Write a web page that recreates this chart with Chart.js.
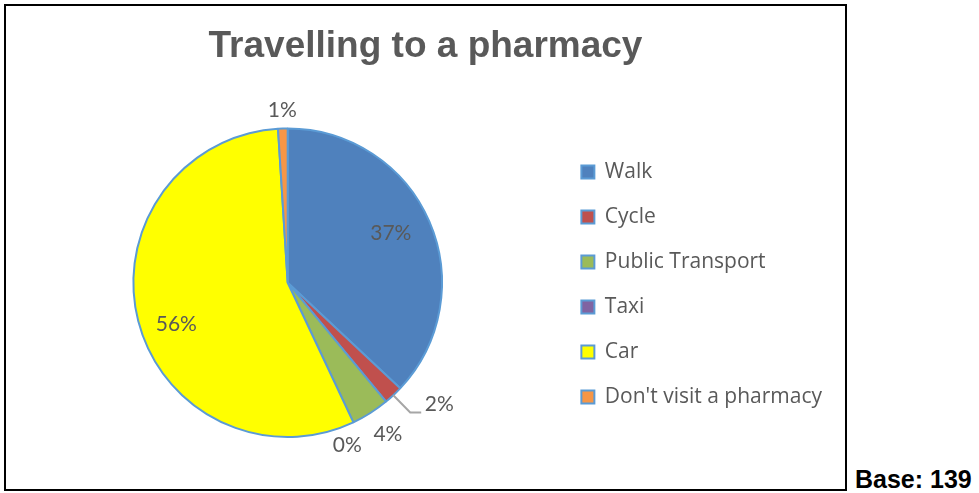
<!DOCTYPE html>
<html lang="en">
<head>
  <meta charset="UTF-8">
  <title>Travelling to a pharmacy</title>
  <script src="https://cdn.jsdelivr.net/npm/chart.js"></script>
  <style>
    body { margin: 0; background: #fff; width: 979px; height: 493px; position: relative; overflow: hidden; }
    #box { position: absolute; left: 4px; top: 4px; width: 839px; height: 483px; border: 2px solid #000; }
    #base { position: absolute; left: 855px; top: 465px; font: bold 25px "Liberation Sans", Arial, sans-serif; color: #000; white-space: nowrap; }
  </style>
</head>
<body>
  <div id="box"><canvas id="pie" width="839" height="483"></canvas></div>
  <div id="base">Base: 139</div>

  <script>
    const categories = ['Walk', 'Cycle', 'Public Transport', 'Taxi', 'Car', "Don't visit a pharmacy"];
    const percents = [37, 2, 4, 0, 56, 1];
    const sliceColours = ['#4F81BD', '#C0504D', '#9BBB59', '#8064A2', '#FFFF00', '#F79646'];

    // where each % label sits, as a fraction of the radius, plus a small angle nudge (deg)
    const labelDist = [0.74, 1.26, 1.18, 1.12, 0.77, 1.12];
    const labelNudge = [-2, -8, -1, 5, -6, 0];

    const pctLabels = {
      id: 'pctLabels',
      afterLayout(chart) {
        // keep the title centred on the whole box, not the padded area
        const t = chart.titleBlock;
        t.left = 0;
        t.right = chart.width;
        t.width = chart.width;
      },
      afterDatasetsDraw(chart) {
        const ctx = chart.ctx;
        const arcs = chart.getDatasetMeta(0).data;
        ctx.save();
        ctx.font = '21px Lato, "Noto Sans", sans-serif';
        ctx.fillStyle = '#595959';
        ctx.textAlign = 'center';
        ctx.textBaseline = 'middle';
        arcs.forEach((arc, i) => {
          const { x, y, outerRadius, startAngle, endAngle } = arc.getProps(['x', 'y', 'outerRadius', 'startAngle', 'endAngle'], true);
          const mid = (startAngle + endAngle) / 2;
          const a = mid + labelNudge[i] * Math.PI / 180;
          const lx = x + Math.cos(a) * outerRadius * labelDist[i];
          const ly = y + Math.sin(a) * outerRadius * labelDist[i];
          if (i === 1) {
            // leader line for the thin Cycle slice
            ctx.strokeStyle = '#A6A6A6';
            ctx.lineWidth = 2;
            ctx.beginPath();
            ctx.moveTo(x + Math.cos(mid) * outerRadius, y + Math.sin(mid) * outerRadius);
            ctx.lineTo(lx - 29, ly + 8);
            ctx.lineTo(lx - 18, ly + 8);
            ctx.stroke();
          }
          ctx.fillText(percents[i] + '%', lx, ly);
        });
        ctx.restore();
      }
    };

    new Chart(document.getElementById('pie'), {
      type: 'pie',
      data: {
        labels: categories,
        datasets: [{
          data: percents,
          backgroundColor: sliceColours,
          borderColor: '#5B9BD5',
          borderWidth: 2
        }]
      },
      options: {
        responsive: false,
        animation: false,
        layout: { padding: { left: 12, right: 13, top: 0, bottom: 51 } },
        plugins: {
          title: {
            display: true,
            text: 'Travelling to a pharmacy',
            color: '#595959',
            font: { family: '"Liberation Sans", Arial, sans-serif', size: 37, weight: 'bold' },
            padding: { top: 19, bottom: 58 }
          },
          legend: {
            position: 'right',
            title: { display: true, text: ' ', font: { size: 10 }, padding: { top: 113, bottom: 0 } },
            labels: {
              color: '#595959',
              font: { family: '"Open Sans", sans-serif', size: 21 },
              boxWidth: 13,
              boxHeight: 13,
              padding: 24
            }
          },
          tooltip: { enabled: false }
        }
      },
      plugins: [pctLabels]
    });
  </script>
</body>
</html>
